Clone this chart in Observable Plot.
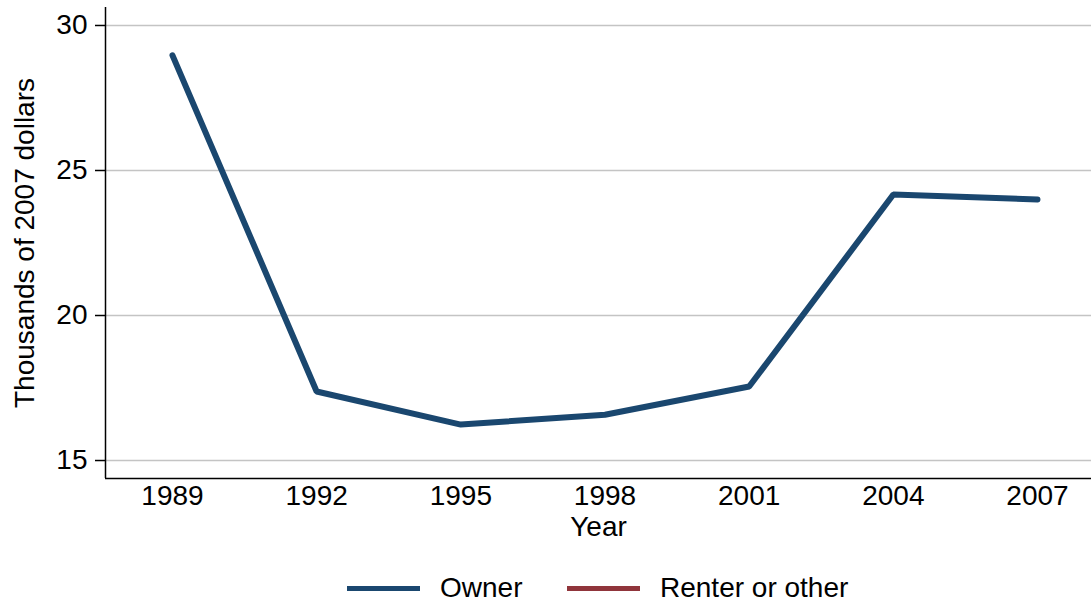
<!DOCTYPE html>
<html>
<head>
<meta charset="utf-8">
<script src="https://cdn.jsdelivr.net/npm/d3@7"></script>
<script src="https://cdn.jsdelivr.net/npm/@observablehq/plot@0.6"></script>
<style>
  body { margin: 0; background: #fff; font-family: "Liberation Sans", Arial, sans-serif; }
  #legend { height: 50px; position: relative; width: 1091px; margin-top: 8px; }
  .item { position: absolute; top: 0; height: 50px; display: flex; align-items: center; font-size: 28px; color: #000; }
  .sw { display: inline-block; width: 73px; height: 5px; margin-right: 20px; }
</style>
</head>
<body>
<div id="chart"></div>
<div id="legend"></div>
<script>
const years = [1989, 1992, 1995, 1998, 2001, 2004, 2007];
const owner = [28.97, 17.38, 16.24, 16.58, 17.55, 24.17, 24.0];
const renter = [null, null, null, null, null, null, null];
const seriesNames = ["Owner", "Renter or other"];
const seriesColors = ["#1a476f", "#90353b"];
const yTicks = [15, 20, 25, 30];
const xTicks = [1989, 1992, 1995, 1998, 2001, 2004, 2007];

const data = [];
years.forEach((yr, i) => {
  data.push({year: yr, value: owner[i], series: seriesNames[0]});
  data.push({year: yr, value: renter[i], series: seriesNames[1]});
});

const xDomain = [1987.606, 2008.124];
const yDomain = [14.38, 30.62];

const chart = Plot.plot({
  width: 1091,
  height: 555,
  marginLeft: 105,
  marginRight: 0,
  marginTop: 7,
  marginBottom: 77,
  style: {fontFamily: '"Liberation Sans", Arial, sans-serif', fontSize: "28px", color: "#000", background: "#fff"},
  x: {domain: xDomain, range: [105, 1091]},
  y: {domain: yDomain},
  color: {domain: seriesNames, range: seriesColors},
  marks: [
    Plot.ruleY(yTicks, {stroke: "#c4c4c4", strokeWidth: 1.6}),
    Plot.ruleX([xDomain[0]], {stroke: "#000", strokeWidth: 1.5}),
    Plot.ruleY([yDomain[0]], {stroke: "#000", strokeWidth: 1.5}),
    Plot.axisY({ticks: yTicks, tickSize: 10, tickPadding: 8, tickFormat: d => String(d), label: null, fontSize: 28, stroke: "#000", strokeWidth: 1.5}),
    Plot.axisX({ticks: xTicks, tickSize: 0, tickPadding: 7, tickFormat: d => String(d), label: null, fontSize: 28}),
    Plot.text(["Year"], {frameAnchor: "bottom", lineAnchor: "middle", textAnchor: "middle", dy: 49, fontSize: 28, fill: "#000"}),
    Plot.text(["Thousands of 2007 dollars"], {frameAnchor: "left", lineAnchor: "middle", textAnchor: "middle", dx: -80, rotate: -90, fontSize: 28, fill: "#000"}),
    Plot.line(data.filter(d => d.value != null), {x: "year", y: "value", z: "series", stroke: "series", strokeWidth: 6, strokeLinecap: "round", strokeLinejoin: "miter"})
  ]
});
document.getElementById("chart").appendChild(chart);

const legend = document.getElementById("legend");
const lefts = [347, 567];
seriesNames.forEach((name, i) => {
  const item = document.createElement("div");
  item.className = "item";
  item.style.left = lefts[i] + "px";
  const sw = document.createElement("span");
  sw.className = "sw";
  sw.style.background = seriesColors[i];
  item.appendChild(sw);
  item.appendChild(document.createTextNode(name));
  legend.appendChild(item);
});
</script>
</body>
</html>
